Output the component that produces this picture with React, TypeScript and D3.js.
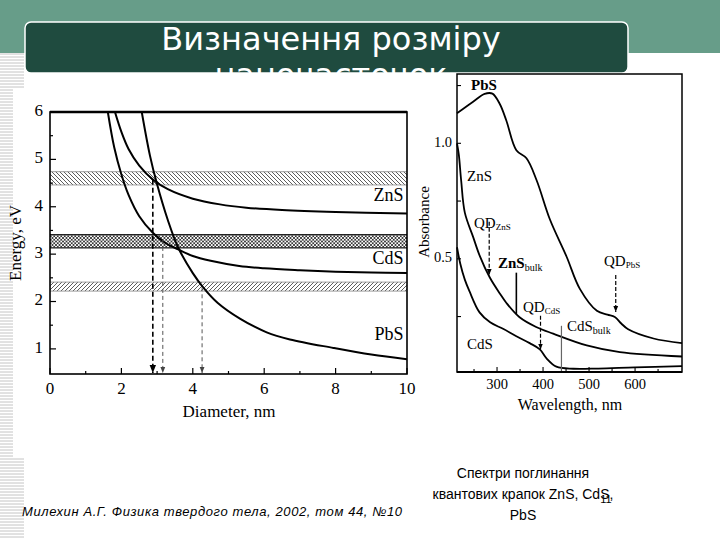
import * as d3 from 'd3';
import React from 'react';

// ---- left chart: energy vs diameter ----
const diameterTicks = [0, 2, 4, 6, 8, 10];
const energyTicks = [1, 2, 3, 4, 5, 6];

const znsCurve: [number, number][] = [
  [1.82, 6.0], [2.0, 5.58], [2.2, 5.22], [2.5, 4.87], [2.89, 4.57], [3.3, 4.37],
  [4.0, 4.17], [4.76, 4.05], [5.5, 3.98], [6.5, 3.93], [8, 3.89], [10, 3.86],
];
const cdsCurve: [number, number][] = [
  [1.62, 6.0], [1.8, 5.25], [2.0, 4.68], [2.2, 4.25], [2.5, 3.8], [2.88, 3.45],
  [3.2, 3.25], [3.59, 3.1], [4.0, 2.96], [4.5, 2.86], [5.3, 2.75], [6, 2.7],
  [7, 2.66], [8, 2.63], [9, 2.61], [10, 2.6],
];
const pbsCurve: [number, number][] = [
  [2.57, 6.0], [2.8, 5.08], [2.99, 4.5], [3.3, 3.72], [3.59, 3.14], [4.0, 2.6],
  [4.29, 2.3], [4.7, 1.97], [5.32, 1.64], [6.07, 1.35], [6.72, 1.2], [7.94, 1.02],
  [9, 0.88], [10, 0.78],
];

const bandNames = ['ZnS', 'CdS', 'PbS'];
const bandLow = [4.46, 3.13, 2.22];
const bandHigh = [4.74, 3.41, 2.41];
const curveLabelEnergy = [4.2, 2.88, 1.27];

const dropDiameter = [2.88, 3.16, 4.26];
const dropEnergy = [4.57, 3.3, 2.3];

// ---- right chart: absorbance spectra ----
const wavelengthTicks = [300, 400, 500, 600];
const wavelengthMinor = [250, 350, 450, 550, 650];
const absorbanceTicks = [0.5, 1.0];
const absorbanceMinor = [0.25, 0.75, 1.25];

const pbsSpectrum: [number, number][] = [
  [213, 1.13], [248, 1.18], [273, 1.214], [290, 1.215], [306, 1.17], [320, 1.1],
  [342, 0.97], [364, 0.935], [386, 0.84], [415, 0.67], [451, 0.51], [480, 0.37],
  [517, 0.275], [540, 0.258], [556, 0.248], [570, 0.22], [585, 0.195], [640, 0.155],
  [702, 0.135],
];
const znsSpectrum: [number, number][] = [
  [213, 1.0], [217, 0.95], [222, 0.84], [230, 0.7], [248, 0.595], [262, 0.515],
  [284, 0.42], [306, 0.35], [320, 0.31], [349, 0.247], [385, 0.205], [422, 0.176],
  [495, 0.125], [567, 0.096], [702, 0.077],
];
const cdsSpectrum: [number, number][] = [
  [213, 0.55], [220, 0.48], [230, 0.41], [240, 0.36], [262, 0.268], [285, 0.225],
  [313, 0.197], [342, 0.165], [371, 0.135], [393, 0.108], [408, 0.068], [429, 0.033],
  [466, 0.024], [520, 0.025], [600, 0.03], [702, 0.035],
];

const footnote = 'Милехин А.Г. Физика твердого тела, 2002, том 44, №10';
const captionLines = ['Спектри поглинання', 'квантових крапок ZnS, CdS,', 'PbS'];

const serif = '"Liberation Serif", "DejaVu Serif", serif';
const sans = '"DejaVu Sans", Verdana, sans-serif';
const arial = '"Liberation Sans", Arial, sans-serif';

export default function App() {
  // left scales
  const x = d3.scaleLinear().domain([0, 10]).range([50, 407]);
  const y = d3.scaleLinear().domain([0.47, 6]).range([374, 112]);
  // right scales
  const wx = d3.scaleLinear().domain([213, 702]).range([457, 682]);
  const wy = d3.scaleLinear().domain([0.01, 1.3]).range([372, 74]);

  const energyLine = d3
    .line<[number, number]>()
    .x((d) => x(d[0]))
    .y((d) => y(d[1]))
    .curve(d3.curveCatmullRom.alpha(0.5));
  const specLine = d3
    .line<[number, number]>()
    .x((d) => wx(d[0]))
    .y((d) => wy(d[1]))
    .curve(d3.curveCatmullRom.alpha(0.5));

  const bandFill = ['url(#hatchBack)', 'url(#hatchCross)', 'url(#hatchFwd)'];

  const stripes = d3.range(54, 540, 3);

  return (
    <svg
      width={720}
      height={540}
      style={{ position: 'absolute', left: 0, top: 0, background: '#fff' }}
    >
      <defs>
        <pattern id="hatchBack" width={4} height={4} patternUnits="userSpaceOnUse">
          <path d="M-1,-1 L5,5 M3,-1 L5,1 M-1,3 L1,5" stroke="#333" strokeWidth={0.8} />
        </pattern>
        <pattern id="hatchFwd" width={4} height={4} patternUnits="userSpaceOnUse">
          <path d="M-1,5 L5,-1 M-1,1 L1,-1 M3,5 L5,3" stroke="#333" strokeWidth={0.8} />
        </pattern>
        <pattern id="hatchCross" width={3.5} height={3.5} patternUnits="userSpaceOnUse">
          <path d="M0,0 L3.5,3.5 M0,3.5 L3.5,0" stroke="#222" strokeWidth={0.8} />
        </pattern>
        <marker id="arrowBlack" viewBox="0 0 10 10" refX={10} refY={5} markerWidth={5} markerHeight={7} orient="auto">
          <path d="M0,1 L10,5 L0,9 z" fill="#000" />
        </marker>
        <marker id="arrowGrey" viewBox="0 0 10 10" refX={10} refY={5} markerWidth={6} markerHeight={7} orient="auto">
          <path d="M0,1 L10,5 L0,9 z" fill="#444" />
        </marker>
        <clipPath id="leftPlot">
          <rect x={x(0)} y={y(6)} width={x(10) - x(0)} height={y(0.47) - y(6)} />
        </clipPath>
        <clipPath id="titleClip">
          <rect x={25} y={22} width={603} height={51} rx={6} />
        </clipPath>
      </defs>

      {/* slide decoration */}
      <rect x={0} y={0} width={720} height={53} fill="#679d89" />
      {stripes.map((sy) => (
        <line
          key={sy}
          x1={0}
          x2={sy < 88 || sy > 458 ? 24 : 13}
          y1={sy}
          y2={sy}
          stroke="#c4c4c4"
          strokeWidth={1}
        />
      ))}
      <rect x={25} y={22} width={603} height={51} rx={6} fill="#1f4b3f" stroke="#fff" strokeWidth={1.5} />
      <g clipPath="url(#titleClip)" fill="#fff" fontFamily={sans} fontSize={32} textAnchor="middle">
        <text x={331} y={50}>Визначення розміру</text>
        <text x={331} y={86}>наночасточок</text>
      </g>

      {/* ---- left chart ---- */}
      <g fontFamily={serif}>
        {bandNames.map((name, i) => (
          <g key={name}>
            <rect
              x={x(0)}
              y={y(bandHigh[i])}
              width={x(10) - x(0)}
              height={y(bandLow[i]) - y(bandHigh[i])}
              fill={bandFill[i]}
            />
            <line x1={x(0)} x2={x(10)} y1={y(bandHigh[i])} y2={y(bandHigh[i])} stroke={i === 1 ? '#222' : '#888'} strokeWidth={i === 1 ? 1.2 : 0.8} />
            <line x1={x(0)} x2={x(10)} y1={y(bandLow[i])} y2={y(bandLow[i])} stroke={i === 1 ? '#222' : '#888'} strokeWidth={i === 1 ? 1.2 : 0.8} />
          </g>
        ))}

        <g clipPath="url(#leftPlot)" fill="none" stroke="#000" strokeWidth={2}>
          <path d={energyLine(znsCurve) ?? ''} />
          <path d={energyLine(cdsCurve) ?? ''} />
          <path d={energyLine(pbsCurve) ?? ''} />
        </g>

        {dropDiameter.map((d, i) => (
          <line
            key={d}
            x1={x(d)}
            x2={x(d)}
            y1={y(dropEnergy[i])}
            y2={y(0.47) - 1}
            stroke={i === 0 ? '#000' : '#555'}
            strokeWidth={i === 0 ? 1.6 : 1}
            strokeDasharray={i === 0 ? '5,3' : '4,3'}
            markerEnd={i === 0 ? 'url(#arrowBlack)' : 'url(#arrowGrey)'}
          />
        ))}

        {bandNames.map((name, i) => (
          <text key={name} x={x(9.9)} y={y(curveLabelEnergy[i])} fontSize={18} textAnchor="end" dominantBaseline="middle">
            {name}
          </text>
        ))}

        {/* frame and ticks */}
        <rect x={x(0)} y={y(6)} width={x(10) - x(0)} height={y(0.47) - y(6)} fill="none" stroke="#000" strokeWidth={1.6} />
        <line x1={x(0)} x2={x(10)} y1={y(6)} y2={y(6)} stroke="#000" strokeWidth={2.4} />
        {d3.range(0, 11, 1).map((t) => (
          <line key={t} x1={x(t)} x2={x(t)} y1={y(0.47)} y2={y(0.47) - (t % 2 === 0 ? 6 : 3)} stroke="#000" strokeWidth={1.2} />
        ))}
        {d3.range(1, 6.01, 0.5).map((t) => (
          <line key={t} x1={x(0)} x2={x(0) + (t % 1 === 0 ? 6 : 3)} y1={y(t)} y2={y(t)} stroke="#000" strokeWidth={1.2} />
        ))}
        {diameterTicks.map((t) => (
          <text key={t} x={x(t)} y={394} fontSize={17} textAnchor="middle">
            {t}
          </text>
        ))}
        {energyTicks.map((t) => (
          <text key={t} x={43} y={y(t)} fontSize={17} textAnchor="end" dominantBaseline="middle">
            {t}
          </text>
        ))}
        <text x={229} y={417} fontSize={17} textAnchor="middle">
          Diameter, nm
        </text>
        <text transform="translate(21,243) rotate(-90)" fontSize={17} textAnchor="middle">
          Energy, eV
        </text>
      </g>

      {/* ---- right chart ---- */}
      <g fontFamily={serif}>
        <g fill="none" stroke="#000" strokeWidth={1.8}>
          <path d={specLine(pbsSpectrum) ?? ''} />
          <path d={specLine(znsSpectrum) ?? ''} />
          <path d={specLine(cdsSpectrum) ?? ''} />
        </g>

        {/* band edge markers */}
        <line x1={wx(283)} x2={wx(283)} y1={wy(0.66)} y2={wy(0.43)} stroke="#000" strokeWidth={1.2} strokeDasharray="4,2" markerEnd="url(#arrowBlack)" />
        <line x1={wx(558)} x2={wx(558)} y1={wy(0.43)} y2={wy(0.27)} stroke="#000" strokeWidth={1.2} strokeDasharray="4,2" markerEnd="url(#arrowBlack)" />
        <line x1={wx(394.5)} x2={wx(394.5)} y1={wy(0.253)} y2={wy(0.107)} stroke="#000" strokeWidth={1.2} strokeDasharray="4,2" markerEnd="url(#arrowBlack)" />
        <line x1={wx(342)} x2={wx(342)} y1={wy(0.44)} y2={wy(0.26)} stroke="#000" strokeWidth={1.6} />
        <line x1={wx(440)} x2={wx(440)} y1={wy(0.21)} y2={wy(0.01)} stroke="#666" strokeWidth={1.2} />

        <text x={471} y={90} fontSize={15} fontWeight="bold">PbS</text>
        <text x={467} y={181} fontSize={15}>ZnS</text>
        <text x={474} y={228} fontSize={15}>
          QD<tspan fontSize={9} dy={2}>ZnS</tspan>
        </text>
        <text x={498} y={268} fontSize={15}>
          <tspan fontWeight="bold">ZnS</tspan>
          <tspan fontSize={10} dy={3}>bulk</tspan>
        </text>
        <text x={604} y={266} fontSize={15}>
          QD<tspan fontSize={9} dy={2}>PbS</tspan>
        </text>
        <text x={523} y={312} fontSize={15}>
          QD<tspan fontSize={9} dy={2}>CdS</tspan>
        </text>
        <text x={567} y={331} fontSize={15}>
          CdS<tspan fontSize={10} dy={3}>bulk</tspan>
        </text>
        <text x={467} y={349} fontSize={15}>CdS</text>

        <rect x={wx(213)} y={wy(1.3)} width={wx(702) - wx(213)} height={wy(0.01) - wy(1.3)} fill="none" stroke="#000" strokeWidth={1.5} />
        <line x1={wx(213)} x2={wx(702)} y1={wy(0.01)} y2={wy(0.01)} stroke="#000" strokeWidth={2} />
        {wavelengthTicks.concat(wavelengthMinor).map((t) => (
          <line key={t} x1={wx(t)} x2={wx(t)} y1={wy(0.01)} y2={wy(0.01) - (t % 100 === 0 ? 5 : 3)} stroke="#000" strokeWidth={1.1} />
        ))}
        {absorbanceTicks.concat(absorbanceMinor).map((t) => (
          <line key={t} x1={wx(213)} x2={wx(213) + 4} y1={wy(t)} y2={wy(t)} stroke="#000" strokeWidth={1.1} />
        ))}
        {wavelengthTicks.map((t) => (
          <text key={t} x={wx(t)} y={389} fontSize={14.5} textAnchor="middle">
            {t}
          </text>
        ))}
        {absorbanceTicks.map((t) => (
          <text key={t} x={452} y={wy(t)} fontSize={14.5} textAnchor="end" dominantBaseline="middle">
            {d3.format('.1f')(t)}
          </text>
        ))}
        <text x={570} y={410} fontSize={16} textAnchor="middle">
          Wavelength, nm
        </text>
        <text transform="translate(429,222) rotate(-90)" fontSize={15} textAnchor="middle">
          Absorbance
        </text>
      </g>

      {/* footer */}
      <text x={22} y={516} fontFamily={arial} fontSize={13} fontStyle="italic" fill="#000" textLength={380} lengthAdjust="spacing">
        {footnote}
      </text>
      {captionLines.map((line, i) => (
        <text key={line} x={523} y={478 + i * 21} fontFamily={arial} fontSize={14} textAnchor="middle" fill="#000">
          {line}
        </text>
      ))}
      <text x={606} y={503} fontFamily={arial} fontSize={11} textAnchor="middle" fill="#000">
        11
      </text>
    </svg>
  );
}
